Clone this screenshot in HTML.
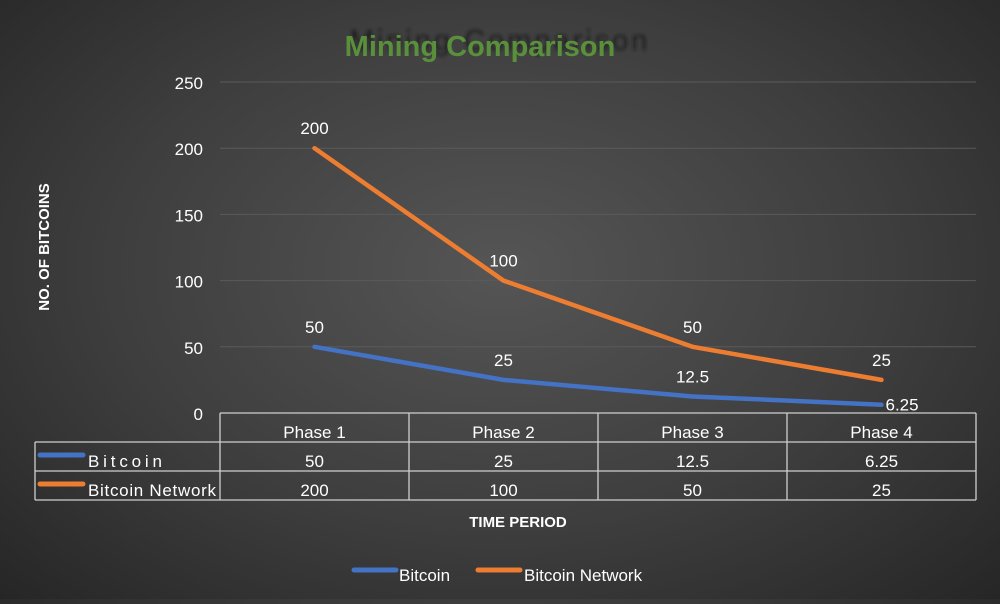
<!DOCTYPE html>
<html><head><meta charset="utf-8"><style>
html,body{margin:0;padding:0;}
body{width:1000px;height:599px;overflow:hidden;background:radial-gradient(ellipse at 50% 45%,#555 0%,#3e3e3e 55%,#262626 100%);font-family:"Liberation Sans",sans-serif;}
svg text{font-family:"Liberation Sans",sans-serif;}
</style></head><body>
<svg id="chart" width="1000" height="599">
<defs><filter id="blur"><feGaussianBlur stdDeviation="1.5"/></filter></defs>
<text x="500" y="50" font-size="29" fill="#151515" opacity="0.75" text-anchor="middle" letter-spacing="3" filter="url(#blur)">Mining Comparison</text>
<text x="480" y="56" font-size="29" font-weight="bold" fill="#5a8f3c" text-anchor="middle">Mining Comparison</text>
<text transform="translate(49,247) rotate(-90)" font-size="15" font-weight="bold" fill="#fff" text-anchor="middle">NO. OF BITCOINS</text>
<text x="518" y="527" font-size="15" font-weight="bold" fill="#fff" text-anchor="middle">TIME PERIOD</text>
<g id="grid"></g><g id="table"></g><g id="lines"></g>
<g>
<line x1="354" y1="570" x2="396" y2="570" stroke="#4472c4" stroke-width="5" stroke-linecap="round"/>
<text x="399" y="581" font-size="17" fill="#fff">Bitcoin</text>
<line x1="478" y1="570" x2="520" y2="570" stroke="#ed7d31" stroke-width="5" stroke-linecap="round"/>
<text x="524" y="581" font-size="17" fill="#fff">Bitcoin Network</text>
</g>
</svg>
<script>
const categories=["Phase 1","Phase 2","Phase 3","Phase 4"];
const bitcoin=[50,25,12.5,6.25];
const network=[200,100,50,25];
const yTicks=[0,50,100,150,200,250];
const NS="http://www.w3.org/2000/svg";
const x0=220,x1=976,y0=413,y1=82,yMax=250;
const colW=(x1-x0)/categories.length;
const xs=i=>x0+colW*(i+0.5);
const ys=v=>y0-(v/yMax)*(y0-y1);
function mk(tag,attrs,parent,txt){const e=document.createElementNS(NS,tag);for(const k in attrs)e.setAttribute(k,attrs[k]);if(txt!==undefined)e.textContent=txt;document.getElementById(parent).appendChild(e);return e;}
yTicks.forEach(t=>{
  if(t>0){const l=mk('line',{x1:x0,x2:x1,y1:ys(t),y2:ys(t),stroke:'#5a5a5a','stroke-width':1},'grid');
  
  }
  const tx=mk('text',{x:203,y:ys(t)+7,'font-size':17,fill:'#fff','text-anchor':'end'},'grid',t);
  
  
});
const rows=[442,471,500];
const st={stroke:'#cfcfcf','stroke-width':1.3,fill:'none'};
mk('line',Object.assign({x1:x0,x2:x1,y1:y0,y2:y0},st),'table');
rows.forEach(r=>mk('line',Object.assign({x1:35,x2:x1,y1:r,y2:r},st),'table'));
mk('line',Object.assign({x1:35,x2:35,y1:442,y2:500},st),'table');
for(let i=0;i<=categories.length;i++)mk('line',Object.assign({x1:x0+colW*i,x2:x0+colW*i,y1:y0,y2:500},st),'table');
categories.forEach((c,i)=>{
  const a=mk('text',{x:xs(i),y:438,'font-size':17,fill:'#fff','text-anchor':'middle'},'table',c);
  
  
  const b=mk('text',{x:xs(i),y:467,'font-size':17,fill:'#fff','text-anchor':'middle'},'table',bitcoin[i]);
  
  
  const n=mk('text',{x:xs(i),y:496,'font-size':17,fill:'#fff','text-anchor':'middle'},'table',network[i]);
  
  
});
mk('line',{x1:40,x2:83,y1:455,y2:455,stroke:'#4472c4','stroke-width':5,'stroke-linecap':'round'},'table');
mk('text',{x:88,y:467,'font-size':17,fill:'#fff',textLength:74},'table','Bitcoin');
mk('line',{x1:40,x2:83,y1:484,y2:484,stroke:'#ed7d31','stroke-width':5,'stroke-linecap':'round'},'table');
mk('text',{x:88,y:496,'font-size':17,fill:'#fff',textLength:128},'table','Bitcoin Network');
function series(data,color,name,lastRight){
  const d=data.map((v,i)=>(i?'L':'M')+xs(i)+','+ys(v)).join(' ');
  const p=mk('path',{d:d,stroke:color,'stroke-width':4.5,fill:'none','stroke-linejoin':'round','stroke-linecap':'round'},'lines');
  
  
  data.forEach((v,i)=>{
    const last=lastRight&&i===data.length-1;
    const t=mk('text',{x:last?xs(i)+4:xs(i),y:last?ys(v)+6:ys(v)-14,'font-size':17,fill:'#fff','text-anchor':last?'start':'middle'},'lines',v);
    
    
  });
}
series(network,'#ed7d31','bitcoin-network',false);
series(bitcoin,'#4472c4','bitcoin',true);
</script>
</body></html>
